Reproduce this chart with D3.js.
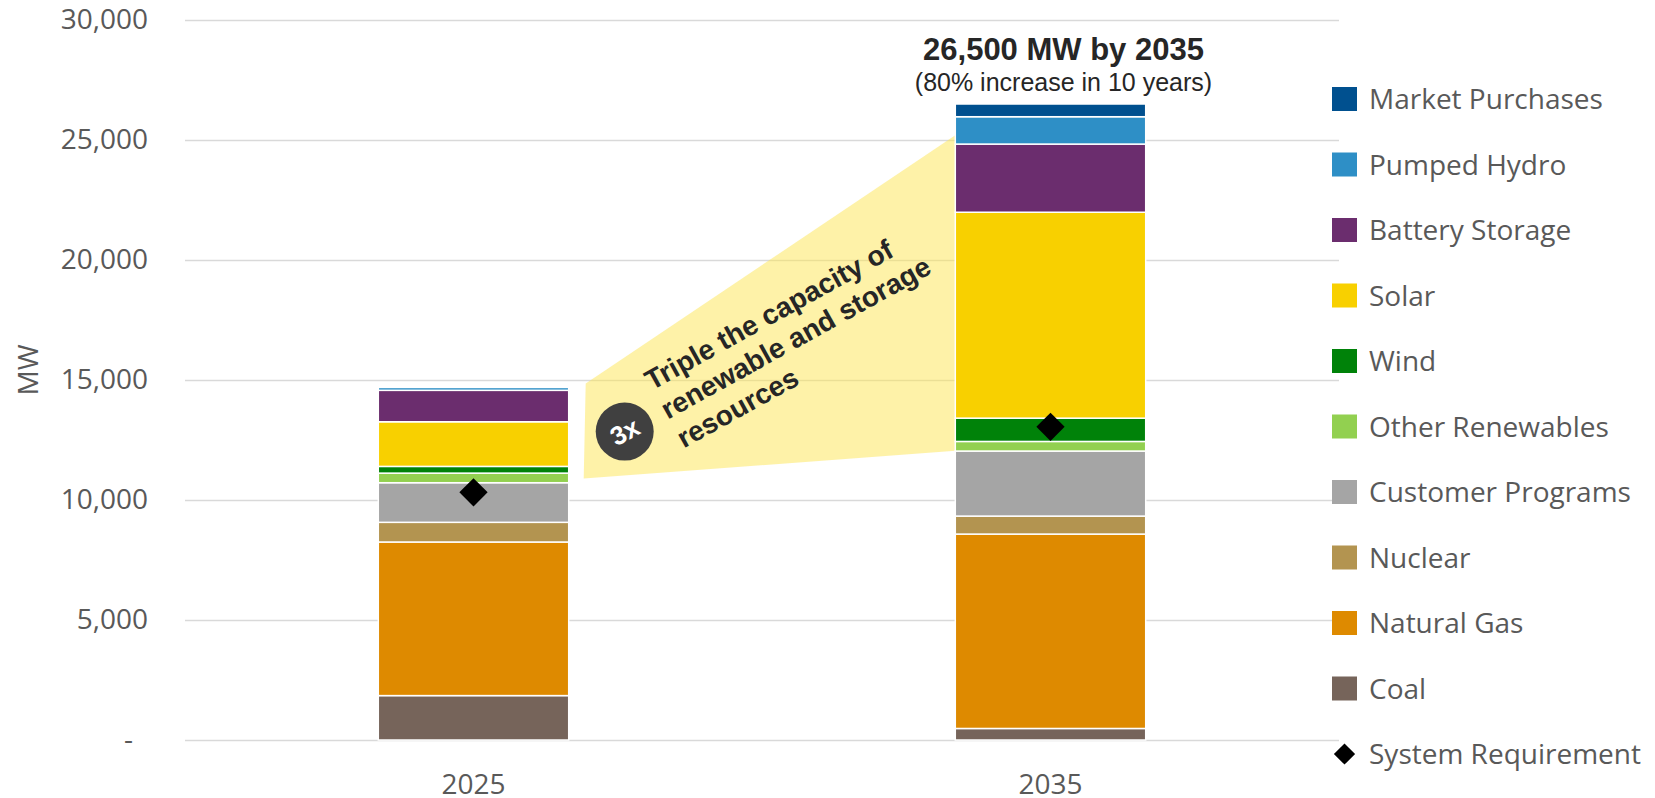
<!DOCTYPE html>
<html>
<head>
<meta charset="utf-8">
<script src="https://cdn.jsdelivr.net/npm/d3@7"></script>
<style>
    body { margin: 0; background: #fff; }
    text { font-family: "Open Sans", sans-serif; }
</style>
</head>
<body>
<div id="chart"></div>
<script>
// data (MW)
const years = ["2025", "2035"];
const seriesNames = ["Coal", "Natural Gas", "Nuclear", "Customer Programs", "Other Renewables",
                     "Wind", "Solar", "Battery Storage", "Pumped Hydro", "Market Purchases"];
const coal = [1850, 480];
const naturalGas = [6400, 8100];
const nuclear = [820, 750];
const customerPrograms = [1650, 2710];
const otherRenewables = [400, 400];
const wind = [280, 970];
const solar = [1860, 8580];
const batteryStorage = [1310, 2840];
const pumpedHydro = [120, 1140];
const marketPurchases = [0, 530];
const systemRequirement = [10320, 13050];
const yTicks = [0, 5000, 10000, 15000, 20000, 25000, 30000];

// wedge between the two bars (MW at left and right edges)
const wedgeLeft = [10900, 14850];
const wedgeRight = [12050, 25200];

const seriesColors = ["#76645A", "#DE8A00", "#B39450", "#A5A5A5", "#92D050",
                      "#008209", "#F8D000", "#6B2D6E", "#2E8FC6", "#00508F"];

const width = 1655;
const height = 798;
const margin = {top: 20, left: 185, right: 316, bottom: 58};

const table = years.map(function(y, i) {
    return {
        year: y,
        "Coal": coal[i],
        "Natural Gas": naturalGas[i],
        "Nuclear": nuclear[i],
        "Customer Programs": customerPrograms[i],
        "Other Renewables": otherRenewables[i],
        "Wind": wind[i],
        "Solar": solar[i],
        "Battery Storage": batteryStorage[i],
        "Pumped Hydro": pumpedHydro[i],
        "Market Purchases": marketPurchases[i],
        req: systemRequirement[i]
    };
});

const stacked = d3.stack().keys(seriesNames)(table);

let yScale = d3.scaleLinear()
            .domain([0, 30000])
            .range([height - margin.bottom, margin.top]);

let xScale = d3.scaleBand()
            .domain(years)
            .range([margin.left, width - margin.right])
            .padding(0);

let colorScale = d3.scaleOrdinal()
            .domain(seriesNames)
            .range(seriesColors);

const barFrac = 0.33;
const barW = xScale.bandwidth() * barFrac;
const barX = function(y) { return xScale(y) + (xScale.bandwidth() - barW) / 2; };

let svg = d3.select("#chart")
            .append("svg")
            .attr("width", width)
            .attr("height", height);

// gridlines
svg.append("g")
    .attr("transform", `translate(${margin.left},0)`)
    .call(d3.axisLeft(yScale).tickValues(yTicks).tickSize(-(width - margin.left - margin.right)).tickFormat(""))
    .call(g => g.select(".domain").remove())
    .selectAll("line")
    .attr("stroke", "#d9d9d9")
    .attr("stroke-width", 1.5);

// y axis labels
const yAxis = svg.append("g")
    .attr("transform", `translate(${margin.left},0)`)
    .call(d3.axisLeft(yScale).tickValues(yTicks).tickSize(0).tickPadding(37)
        .tickFormat(function(d) { return d === 0 ? "-" : d3.format(",")(d); }));
yAxis.select(".domain").remove();
yAxis.selectAll("text")
    .attr("fill", "#595959")
    .style("font-size", "28px")
    .attr("dx", function(d) { return d === 0 ? -15 : 0; });

svg.append("text")
    .attr("x", -yScale(15000) + 10)
    .attr("y", 38)
    .attr("transform", "rotate(-90)")
    .attr("text-anchor", "middle")
    .attr("fill", "#595959")
    .style("font-size", "28px")
    .text("MW");

// x axis labels
const xAxis = svg.append("g")
    .attr("transform", `translate(0,${height - margin.bottom})`)
    .call(d3.axisBottom(xScale).tickSize(0).tickPadding(34));
xAxis.select(".domain").remove();
xAxis.selectAll("text")
    .attr("fill", "#595959")
    .style("font-size", "28px");

// yellow wedge
const wedgeX0 = barX(years[0]) + barW + 15;
const wedgeX1 = barX(years[1]);
const wedgePts = [
    [wedgeX0, yScale(wedgeLeft[0])],
    [wedgeX0 + 2, yScale(wedgeLeft[1])],
    [wedgeX1, yScale(wedgeRight[1])],
    [wedgeX1, yScale(wedgeRight[0])]
];
svg.append("polygon")
    .attr("points", wedgePts.map(p => p.join(",")).join(" "))
    .attr("fill", "#FDE551")
    .attr("fill-opacity", 0.5);

// stacked bars
svg.append("g")
    .selectAll("g")
    .data(stacked)
    .enter()
    .append("g")
        .attr("fill", function(d) { return colorScale(d.key); })
    .selectAll("rect")
    .data(function(d) { return d; })
    .enter()
    .append("rect")
        .attr("x", function(d) { return barX(d.data.year); })
        .attr("y", function(d) { return yScale(d[1]); })
        .attr("width", barW)
        .attr("height", function(d) { return Math.max(0, yScale(d[0]) - yScale(d[1])); })
        .attr("stroke", "#fff")
        .attr("stroke-width", 1.5);

// system requirement diamonds
svg.selectAll("rect.req")
    .data(table)
    .enter()
    .append("rect")
        .attr("class", "req")
        .attr("x", -10)
        .attr("y", -10)
        .attr("width", 20)
        .attr("height", 20)
        .attr("fill", "#000")
        .attr("transform", function(d) {
            return `translate(${xScale(d.year) + xScale.bandwidth() / 2},${yScale(d.req)}) rotate(45)`;
        });

// total annotation
const totalX = xScale(years[1]) + xScale.bandwidth() / 2 + 13;
svg.append("text")
    .attr("x", totalX)
    .attr("y", 60)
    .attr("text-anchor", "middle")
    .attr("fill", "#262626")
    .style("font-family", "'Liberation Sans', Arial, sans-serif")
    .style("font-size", "31px")
    .style("font-weight", "bold")
    .text("26,500 MW by 2035");

svg.append("text")
    .attr("x", totalX)
    .attr("y", 91)
    .attr("text-anchor", "middle")
    .attr("fill", "#262626")
    .style("font-family", "'Liberation Sans', Arial, sans-serif")
    .style("font-size", "25px")
    .text("(80% increase in 10 years)");

// 3x badge and rotated note
const badge = svg.append("g")
    .attr("transform", `translate(${wedgeX0 + 41},${yScale(12850)})`);
badge.append("circle")
    .attr("r", 29)
    .attr("fill", "#404040");
badge.append("text")
    .attr("transform", "rotate(-28)")
    .attr("text-anchor", "middle")
    .attr("dy", "0.35em")
    .attr("fill", "#fff")
    .style("font-family", "'Liberation Sans', Arial, sans-serif")
    .style("font-size", "26px")
    .style("font-weight", "bold")
    .text("3x");

const note = svg.append("text")
    .attr("transform", `translate(${wedgeX0 + 68},${yScale(14550)}) rotate(-29)`)
    .attr("fill", "#262626")
    .style("font-family", "'Liberation Sans', Arial, sans-serif")
    .style("font-size", "28px")
    .style("font-weight", "bold");
["Triple the capacity of", "renewable and storage", "resources"].forEach(function(line, i) {
    note.append("tspan")
        .attr("x", 0)
        .attr("dy", i === 0 ? 0 : 33)
        .text(line);
});

// legend
const legendNames = seriesNames.slice().reverse();
const legendX = 1332;
const legendY0 = 99;
const legendStep = 65.5;

const legend = svg.append("g");
legend.selectAll("rect")
    .data(legendNames)
    .enter()
    .append("rect")
        .attr("x", legendX)
        .attr("y", function(d, i) { return legendY0 + legendStep * i - 12; })
        .attr("width", 25)
        .attr("height", 24)
        .attr("fill", function(d) { return colorScale(d); });

legend.append("rect")
    .attr("x", -7.5)
    .attr("y", -7.5)
    .attr("width", 15)
    .attr("height", 15)
    .attr("fill", "#000")
    .attr("transform", `translate(${legendX + 12.5},${legendY0 + legendStep * legendNames.length}) rotate(45)`);

legend.selectAll("text")
    .data(legendNames.concat(["System Requirement"]))
    .enter()
    .append("text")
        .attr("x", legendX + 37)
        .attr("y", function(d, i) { return legendY0 + legendStep * i; })
        .attr("dy", "0.36em")
        .attr("fill", "#595959")
        .style("font-size", "28px")
        .text(function(d) { return d; });
</script>
</body>
</html>
